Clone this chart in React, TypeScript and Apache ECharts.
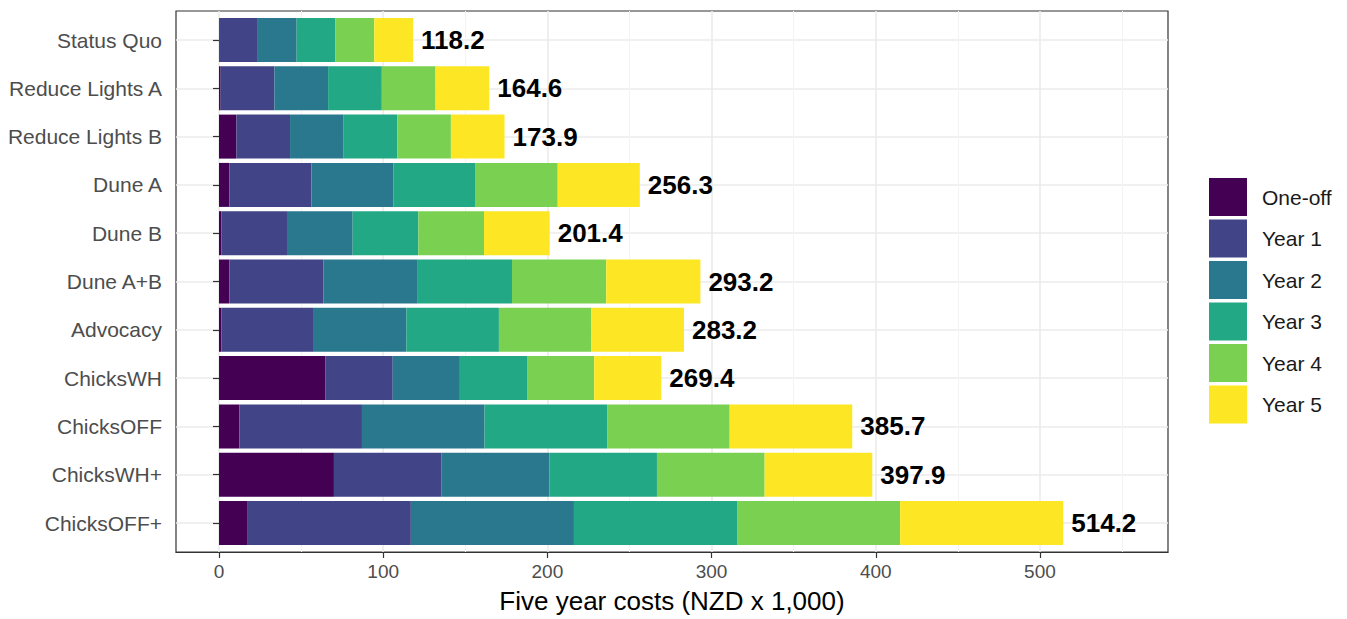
import React, { useEffect, useRef } from "react";
import * as echarts from "echarts";

const categories = [
  "Status Quo",
  "Reduce Lights A",
  "Reduce Lights B",
  "Dune A",
  "Dune B",
  "Dune A+B",
  "Advocacy",
  "ChicksWH",
  "ChicksOFF",
  "ChicksWH+",
  "ChicksOFF+",
];

const seriesNames = ["One-off", "Year 1", "Year 2", "Year 3", "Year 4", "Year 5"];

const oneOff = [0, 1.0, 10.6, 6.3, 1.4, 6.3, 1.4, 64.9, 12.4, 70.0, 17.5];
const year1 = [23.64, 32.72, 32.66, 50.0, 40.0, 57.38, 56.36, 40.9, 74.66, 65.58, 99.34];
const year2 = [23.64, 32.72, 32.66, 50.0, 40.0, 57.38, 56.36, 40.9, 74.66, 65.58, 99.34];
const year3 = [23.64, 32.72, 32.66, 50.0, 40.0, 57.38, 56.36, 40.9, 74.66, 65.58, 99.34];
const year4 = [23.64, 32.72, 32.66, 50.0, 40.0, 57.38, 56.36, 40.9, 74.66, 65.58, 99.34];
const year5 = [23.64, 32.72, 32.66, 50.0, 40.0, 57.38, 56.36, 40.9, 74.66, 65.58, 99.34];

const totals = [118.2, 164.6, 173.9, 256.3, 201.4, 293.2, 283.2, 269.4, 385.7, 397.9, 514.2];

const majorTicks = [0, 100, 200, 300, 400, 500];
const minorTicks = [50, 150, 250, 350, 450, 550];

const colors = ["#440154", "#414487", "#2A788E", "#22A884", "#7AD151", "#FDE725"];

const X_MIN = -26.2;
const X_MAX = 578;
const FONT = "Arial, 'Liberation Sans', Helvetica, sans-serif";

export default function App() {
  const ref = useRef<HTMLDivElement>(null);

  useEffect(() => {
    if (!ref.current) return;
    const chart = echarts.init(ref.current, null, { renderer: "svg" });
    const values = [oneOff, year1, year2, year3, year4, year5];

    const series = values.map((data, i) => ({
      name: seriesNames[i],
      type: "bar",
      stack: "total",
      xAxisIndex: 2,
      yAxisIndex: 1,
      data,
      barWidth: 44,
      itemStyle: { color: colors[i] },
      label:
        i === values.length - 1
          ? {
              show: true,
              position: "right",
              distance: 8,
              formatter: (p: any) => totals[p.dataIndex].toFixed(1),
              fontSize: 26,
              fontWeight: "bold",
              color: "#000",
              fontFamily: FONT,
            }
          : { show: false },
      emphasis: { disabled: true },
    }));

    chart.setOption({
      animation: false,
      textStyle: { fontFamily: FONT },
      grid: [
        {
          left: 176,
          top: 11,
          right: 179,
          bottom: 67,
          show: true,
          borderColor: "#333333",
          borderWidth: 1.2,
          backgroundColor: "transparent",
        },
        { left: 176, top: 40, right: 179, bottom: 96 },
      ],
      legend: {
        orient: "vertical",
        left: 1209,
        top: 178,
        padding: 0,
        itemWidth: 38,
        itemHeight: 38,
        itemGap: 3.5,
        icon: "rect",
        data: seriesNames,
        textStyle: {
          fontSize: 21,
          color: "#1a1a1a",
          fontFamily: FONT,
          padding: [0, 0, 0, 10],
        },
      },
      xAxis: [
        {
          type: "value",
          gridIndex: 0,
          min: X_MIN,
          max: X_MAX,
          position: "bottom",
          name: "Five year costs (NZD x 1,000)",
          nameLocation: "middle",
          nameGap: 36,
          nameTextStyle: { fontSize: 26, color: "#000", fontFamily: FONT },
          axisLine: { show: true, lineStyle: { color: "#333333", width: 1.2 } },
          axisTick: {
            show: true,
            length: 6,
            customValues: majorTicks,
            lineStyle: { color: "#333333", width: 1.2 },
          },
          axisLabel: {
            customValues: majorTicks,
            fontSize: 19,
            color: "#4d4d4d",
            margin: 10,
            fontFamily: FONT,
          },
          splitLine: { show: true, lineStyle: { color: "#ebebeb", width: 1.6 } },
        },
        {
          type: "value",
          gridIndex: 0,
          min: X_MIN,
          max: X_MAX,
          position: "top",
          axisLine: { show: false },
          axisTick: { show: false, customValues: minorTicks },
          axisLabel: { show: false, customValues: minorTicks },
          splitLine: { show: true, lineStyle: { color: "#f3f3f3", width: 1 } },
        },
        {
          type: "value",
          gridIndex: 1,
          min: X_MIN,
          max: X_MAX,
          show: false,
          splitLine: { show: false },
        },
      ],
      yAxis: [
        {
          type: "value",
          gridIndex: 0,
          show: false,
          splitLine: { show: false },
        },
        {
          type: "category",
          gridIndex: 1,
          data: categories,
          inverse: true,
          boundaryGap: false,
          axisLine: { show: false },
          axisTick: {
            show: true,
            length: 6,
            interval: 0,
            lineStyle: { color: "#333333", width: 1.2 },
          },
          axisLabel: {
            interval: 0,
            fontSize: 21,
            color: "#4d4d4d",
            margin: 14,
            fontFamily: FONT,
          },
          splitLine: { show: true, interval: 0, lineStyle: { color: "#ebebeb", width: 1.6 } },
        },
      ],
      series,
    });

    return () => chart.dispose();
  }, []);

  return (
    <div
      ref={ref}
      style={{ position: "fixed", left: 0, top: 0, width: 1347, height: 619, background: "#fff" }}
    />
  );
}
